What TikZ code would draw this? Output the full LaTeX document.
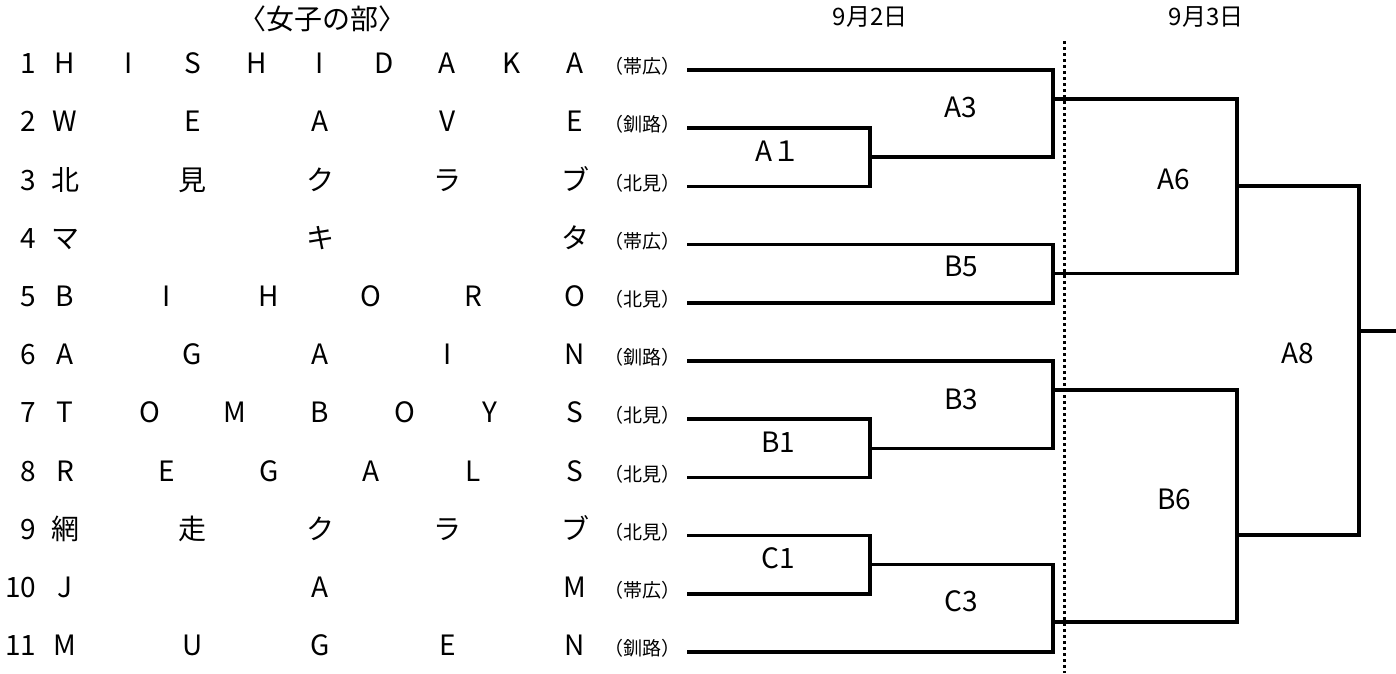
\documentclass[tikz,border=0pt]{standalone}
\usepackage{fontspec}
\setmainfont{Noto Sans CJK JP}

\begin{document}
\begin{tikzpicture}[x=1pt,y=-1pt,line width=3.5pt,
	every node/.style={inner sep=0pt,text height=0.72em,text depth=0pt},
	big/.style={font=\fontsize{28}{30}\selectfont},
	small/.style={font=\fontsize{19}{21}\selectfont},
	date/.style={font=\fontsize{24}{26}\selectfont}]
\useasboundingbox (0,0) rectangle (1396,673);
\def\team#1#2#3#4{
	\pgfmathsetmacro{\ry}{70+(#1-1)*58.2}
	\node[big,anchor=east] (num#1) at (38,\ry) {#1};
	\foreach \ltr [count=\i] in {#4}{
		\node[big] (n#1-\i) at ({65+(\i-1)*510/(#3-1)},\ry) {\ltr};
	}
	\node[small] (p#1) at (642,\ry) {（#2）};
	\coordinate (t#1) at (687,\ry);
}

\node[big] (title) at (322,26) {〈女子の部〉};
\node[date] (day2) at (870,22) {9月2日};
\node[date] (day3) at (1206,22) {9月3日};

\team{1}{帯広}{9}{H,I,S,H,I,D,A,K,A}
\team{2}{釧路}{5}{W,E,A,V,E}
\team{3}{北見}{5}{北,見,ク,ラ,ブ}
\team{4}{帯広}{3}{マ,キ,タ}
\team{5}{北見}{6}{B,I,H,O,R,O}
\team{6}{釧路}{5}{A,G,A,I,N}
\team{7}{北見}{7}{T,O,M,B,O,Y,S}
\team{8}{北見}{6}{R,E,G,A,L,S}
\team{9}{北見}{5}{網,走,ク,ラ,ブ}
\team{10}{帯広}{3}{J,A,M}
\team{11}{釧路}{5}{M,U,G,E,N}

\coordinate (A1) at (870,157.1);
\coordinate (A3) at (1053,99);
\coordinate (B5) at (1053,273.7);
\coordinate (A6) at (1237,186);
\coordinate (B1) at (870,448.3);
\coordinate (B3) at (1053,390);
\coordinate (C1) at (870,564.7);
\coordinate (C3) at (1053,622);
\coordinate (B6) at (1237,535);
\coordinate (A8) at (1359,331);
\coordinate (fin) at (1400,331);
\coordinate (dtop) at (1064,41);
\coordinate (dbot) at (1064,673);

\draw[line width=3pt,dash pattern=on 3pt off 3pt] (dtop) -- (dbot);

\draw (t2) -| (A1) |- (t3);
\draw (t1) -| (A3) |- (A1);
\draw (t4) -| (B5) |- (t5);
\draw (A3) -| (A6) |- (B5);
\draw (t7) -| (B1) |- (t8);
\draw (t6) -| (B3) |- (B1);
\draw (t9) -| (C1) |- (t10);
\draw (C1) -| (C3) |- (t11);
\draw (B3) -| (B6) |- (C3);
\draw (A6) -| (A8) |- (B6);
\draw (A8) -- (fin);

\node[big] (lA1) at (778,158) {A１};
\node[big] (lA3) at (961,114) {A3};
\node[big] (lB5) at (961,273) {B5};
\node[big] (lB1) at (778,449) {B1};
\node[big] (lB3) at (961,406) {B3};
\node[big] (lC1) at (778,565) {C1};
\node[big] (lC3) at (961,608) {C3};
\node[big] (lA6) at (1174,186) {A6};
\node[big] (lB6) at (1174,506) {B6};
\node[big] (lA8) at (1298,360) {A8};

\end{tikzpicture}
\end{document}
